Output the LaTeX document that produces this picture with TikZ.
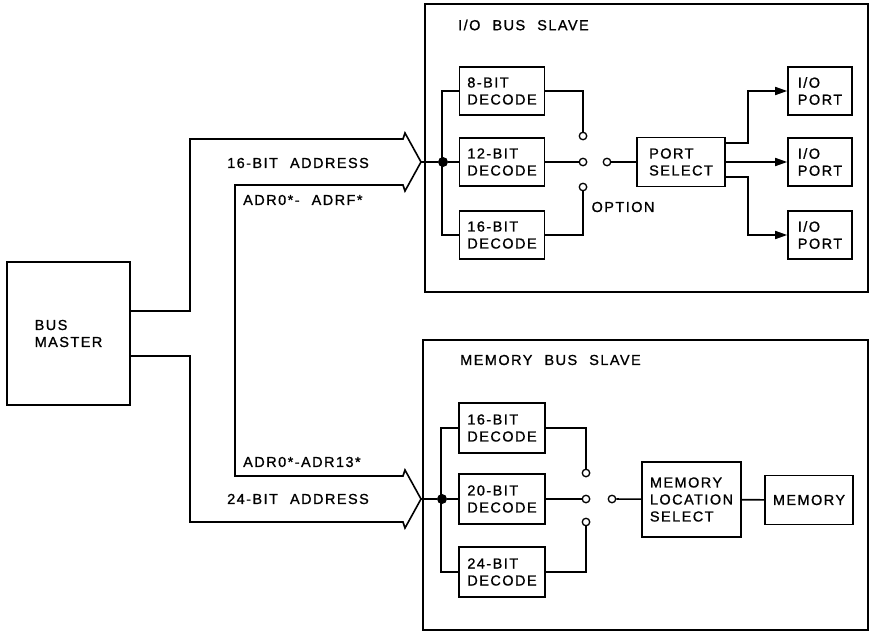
\documentclass[tikz,border=0pt]{standalone}
\usepackage{fontspec}
\setmainfont{Liberation Sans}[LetterSpace=10,WordSpace=2.2,FakeBold=1]
\usetikzlibrary{arrows.meta,positioning}

\begin{document}
\begin{tikzpicture}[x=1pt,y=-1pt,font=\fontsize{14.5}{17}\selectfont,
	blk/.style={draw,line width=1.6pt,align=left,inner sep=0pt},
	dec/.style={blk,minimum width=85pt,minimum height=48pt},
	port/.style={blk,minimum width=64pt,minimum height=48pt},
	slave/.style={draw,line width=2.2pt,inner sep=0pt},
	sw/.style={circle,draw,line width=1.3pt,fill=white,inner sep=0pt,minimum size=7.5pt},
	dot/.style={circle,fill,inner sep=0pt,minimum size=10pt},
	wire/.style={line width=1.6pt},
	lbl/.style={anchor=west,inner sep=0pt}]
\useasboundingbox (0,0) rectangle (870,632);
% master and the two slaves
\node[blk,line width=2.2pt,minimum width=123pt,minimum height=143pt] (M) at (68.5,333.5){BUS\\MASTER};
\node[slave,minimum width=443pt,minimum height=288pt] (IO) at (646.5,148){};
\node[slave,minimum width=445pt,minimum height=290pt] (MS) at (645.5,485){};
\node[lbl] (IOt) at (458,25){I/O BUS SLAVE};
\node[lbl] (MSt) at (460,360){MEMORY BUS SLAVE};
% I/O slave
\foreach \i/\n/\y in {1/8/91,2/12/162,3/16/235}\node[dec] (D\i) at (502,\y){\n-BIT\\DECODE};
\foreach \i/\y in {1/136,2/162,3/187}\node[sw] (S\i) at (583,\y){};
\node[sw] (SC) at (607,162){};
\node[blk,minimum width=88pt,minimum height=49pt] (PS) at (681,162){PORT\\SELECT};
\foreach \i/\y in {1/91,2/162,3/235}\node[port] (P\i) at (820,\y){I/O\\PORT};
\node (opt) at (623,207){OPTION};
\node[dot] (J1) at (443,162){};
% memory slave
\foreach \i/\n/\y in {1/16/428,2/20/499,3/24/572}\node[dec,minimum width=86pt,minimum height=50pt] (E\i) at (502,\y){\n-BIT\\DECODE};
\foreach \i/\y in {1/473,2/499,3/522}\node[sw] (T\i) at (586,\y){};
\node[sw] (TC) at (612,499){};
\node[blk,minimum width=99pt,minimum height=75pt] (MLS) at (691.5,499.5){MEMORY\\LOCATION\\SELECT};
\node[blk,minimum width=88pt,minimum height=49pt] (MEM) at (809,500){MEMORY};
\node[dot] (J2) at (442,499){};
% the two buses
\coordinate (tA) at (421,162);
\coordinate (tB) at (421,499);
\draw[wire] ([yshift=22.5pt]M.east) -| (190,139) -- (403,139) -- (405,133) -- (tA) -- (405,191)
	-- (403,185) -- (235,185) -- (235,476) -- (403,476) -- (405,470) -- (tB) -- (405,528)
	-- (403,522) -- (190,522) |- ([yshift=-22.5pt]M.east);
\node[lbl] (a16) at (227,163){16-BIT ADDRESS};
\node[lbl] (r16) at (243,200){ADR0*- ADRF*};
\node[lbl] (r24) at (243,462){ADR0*-ADR13*};
\node[lbl] (a24) at (227,499){24-BIT ADDRESS};
% wiring inside I/O slave
\draw[wire] (tA) -- (J1) -- (D2);
\draw[wire] (D1.west) -- ++(-17,0) |- (D3.west);
\draw[wire] (D1.east) -| (S1);
\draw[wire] (D2) -- (S2);
\draw[wire] (D3.east) -| (S3);
\draw[wire] (SC) -- (PS);
\draw[wire,-{Triangle[length=12pt,width=8pt]}] ([yshift=19pt]PS.east) -- ++(22,0) |- (P1);
\draw[wire,-{Triangle[length=12pt,width=8pt]}] (PS) -- (P2);
\draw[wire,-{Triangle[length=12pt,width=8pt]}] ([yshift=-15pt]PS.east) -- ++(22,0) |- (P3);
% wiring inside memory slave
\draw[wire] (tB) -- (J2) -- (E2);
\draw[wire] (E1.west) -- ++(-17,0) |- (E3.west);
\draw[wire] (E1.east) -| (T1);
\draw[wire] (E2) -- (T2);
\draw[wire] (E3.east) -| (T3);
\draw[wire] (TC) -- (MLS);
\draw[wire] (MLS) -- (MEM);
\end{tikzpicture}
\end{document}
